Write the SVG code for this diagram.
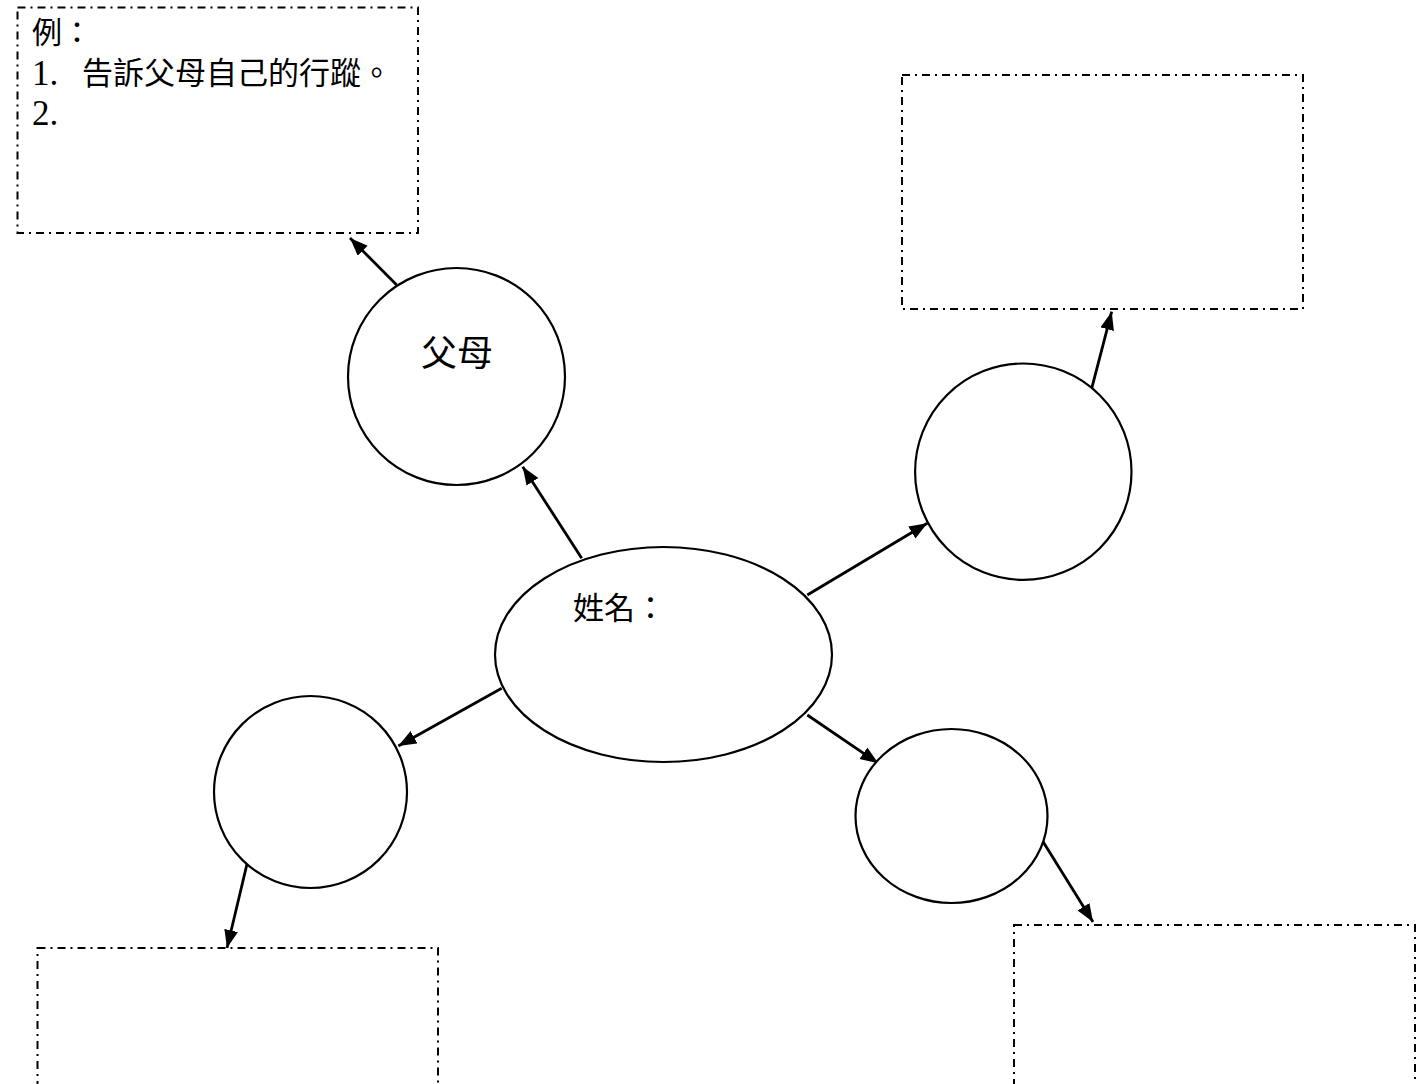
<svg xmlns="http://www.w3.org/2000/svg" width="1428" height="1084" viewBox="0 0 1428 1084">
<style>
.box{fill:none;stroke:#000;stroke-width:2;stroke-dasharray:8 5 2 5;}
.node{fill:#fff;stroke:#000;stroke-width:2.2;}
.edge{stroke:#000;stroke-width:2.8;fill:none;marker-end:url(#ah);}
.cjk{font-family:"Liberation Serif","Noto Sans CJK TC",serif;fill:#000;}
</style>
<defs>
<marker id="ah" markerUnits="userSpaceOnUse" markerWidth="19" markerHeight="15" refX="18" refY="7" orient="auto">
<path d="M0,0 L18,7 L0,14 z" fill="#000"/>
</marker>
</defs>
<rect width="1428" height="1084" fill="#fff"/>
<g id="box-tl">
<rect class="box" x="17.5" y="7.5" width="400.5" height="225.5"/>
<text class="cjk" x="32" y="43" font-size="30">例：</text>
<text class="cjk" x="32" y="85" font-size="35">1.</text>
<text class="cjk" x="82" y="84" font-size="31">告訴父母自己的行蹤。</text>
<text class="cjk" x="32" y="125" font-size="35">2.</text>
</g>
<g id="box-tr"><rect class="box" x="902" y="75" width="401" height="234"/></g>
<g id="box-bl"><rect class="box" x="37.5" y="948" width="400.5" height="200"/></g>
<g id="box-br"><rect class="box" x="1014" y="925" width="401" height="200"/></g>
<g id="connectors">
<line class="edge" x1="396.7" y1="285" x2="350" y2="238"/>
<line class="edge" x1="581.7" y1="558.3" x2="522.7" y2="466.7"/>
<line class="edge" x1="807.3" y1="595" x2="927.3" y2="523.3"/>
<line class="edge" x1="1091.7" y1="388.3" x2="1111.7" y2="311.7"/>
<line class="edge" x1="501.7" y1="688.3" x2="398.3" y2="746"/>
<line class="edge" x1="807.3" y1="715" x2="878.3" y2="763.3"/>
<line class="edge" x1="1042" y1="840" x2="1093" y2="922"/>
<line class="edge" x1="247" y1="864" x2="227" y2="948"/>
</g>
<g id="node-parents">
<circle class="node" cx="456.5" cy="376.5" r="108.5"/>
<text class="cjk" x="421" y="366" font-size="36">父母</text>
</g>
<g id="node-name">
<ellipse class="node" cx="663.5" cy="654.5" rx="168.5" ry="107.5"/>
<text class="cjk" x="573" y="619" font-size="31">姓名：</text>
</g>
<g id="node-right"><circle class="node" cx="1023.3" cy="471.7" r="108.2"/></g>
<g id="node-left"><ellipse class="node" cx="310.5" cy="792" rx="96.5" ry="96"/></g>
<g id="node-bright"><ellipse class="node" cx="951.5" cy="816" rx="96" ry="87"/></g>
</svg>
